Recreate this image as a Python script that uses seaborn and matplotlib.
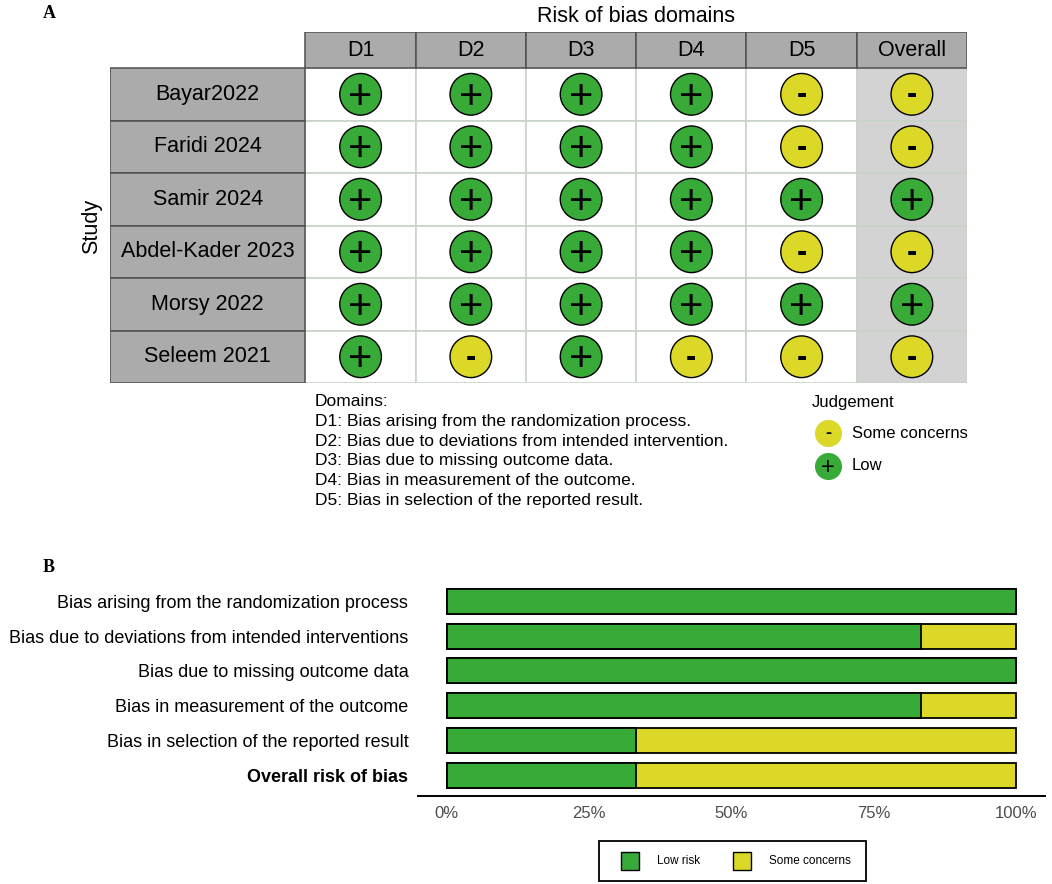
import numpy as np
import pandas as pd
import matplotlib
matplotlib.use("Agg")
import matplotlib.pyplot as plt
from matplotlib.patches import Rectangle
import seaborn as sns

# ---- data ----
studies = ["Bayar2022", "Faridi 2024", "Samir 2024", "Abdel-Kader 2023", "Morsy 2022", "Seleem 2021"]
domains = ["D1", "D2", "D3", "D4", "D5", "Overall"]
# L = Low, S = Some concerns (rows follow studies, columns follow domains)
d1 = ["L", "L", "L", "L", "L", "L"]
d2 = ["L", "L", "L", "L", "L", "S"]
d3 = ["L", "L", "L", "L", "L", "L"]
d4 = ["L", "L", "L", "L", "L", "S"]
d5 = ["S", "S", "L", "S", "L", "S"]
overall = ["S", "S", "L", "S", "L", "S"]

domain_text = [
    "Domains:",
    "D1: Bias arising from the randomization process.",
    "D2: Bias due to deviations from intended intervention.",
    "D3: Bias due to missing outcome data.",
    "D4: Bias in measurement of the outcome.",
    "D5: Bias in selection of the reported result.",
]

summary_labels = [
    "Bias arising from the randomization process",
    "Bias due to deviations from intended interventions",
    "Bias due to missing outcome data",
    "Bias in measurement of the outcome",
    "Bias in selection of the reported result",
    "Overall risk of bias",
]
low_pct = [100, 83.3, 100, 83.3, 33.3, 33.3]
some_pct = [0, 16.7, 0, 16.7, 66.7, 66.7]
pct_ticks = [0, 25, 50, 75, 100]
pct_labels = ["0%", "25%", "50%", "75%", "100%"]

GREEN = "#38AA38"
YELLOW = "#DCD828"
HEAD = "#ABABAB"
BORDER = "#505050"
GRID = "#C8D4C8"

sns.set_style("white")
plt.rcParams["font.family"] = ["Liberation Sans", "DejaVu Sans"]
plt.rcParams["text.color"] = "black"

W, H = 1052, 884
fig = plt.figure(figsize=(W / 100, H / 100), dpi=100)


def fig_rect(x0, y0, x1, y1):
    return [x0 / W, 1 - y1 / H, (x1 - x0) / W, (y1 - y0) / H]


# overlay axes in pixel coordinates for annotations / legends
ov = fig.add_axes([0, 0, 1, 1])
ov.set_xlim(0, W)
ov.set_ylim(H, 0)
ov.axis("off")

# ---- panel A: traffic light ----
ax_a = fig.add_axes(fig_rect(110, 32, 967, 383))
study_w = 195 / 110
head_h = 36 / 52.4
ax_a.axis("off")

for r in range(len(studies)):
    for c in range(len(domains)):
        fc = "#D3D3D3" if domains[c] == "Overall" else "white"
        ax_a.add_patch(Rectangle((c - 0.5, r - 0.5), 1, 1, facecolor=fc,
                                 edgecolor=GRID, lw=1.2, zorder=1))
for c, d in enumerate(domains):
    ax_a.add_patch(Rectangle((c - 0.5, -0.5 - head_h), 1, head_h, facecolor=HEAD,
                             edgecolor=BORDER, lw=1.1, zorder=2))
    ax_a.text(c, -0.5 - head_h / 2, d, ha="center", va="center", fontsize=15.5, zorder=4)
for r, s in enumerate(studies):
    ax_a.add_patch(Rectangle((-0.5 - study_w, r - 0.5), study_w, 1, facecolor=HEAD,
                             edgecolor=BORDER, lw=1.1, zorder=2))
    ax_a.text(-0.5 - study_w / 2, r, s, ha="center", va="center", fontsize=15.5, zorder=4)

judg = pd.DataFrame({"D1": d1, "D2": d2, "D3": d3, "D4": d4, "D5": d5, "Overall": overall})
judg["row"] = range(len(studies))
long = judg.melt(id_vars="row", var_name="domain", value_name="j")
long["col"] = long["domain"].map({d: i for i, d in enumerate(domains)})

sns.scatterplot(data=long, x="col", y="row", hue="j", palette={"L": GREEN, "S": YELLOW},
                s=900, edgecolor="black", linewidth=1.0, legend=False, ax=ax_a, zorder=3)
for _, rr in long.iterrows():
    if rr["j"] == "L":
        ax_a.text(rr["col"], rr["row"] + 0.07, "+", ha="center", va="center",
                  fontsize=30, zorder=5)
    else:
        ax_a.text(rr["col"], rr["row"] + 0.02, "-", ha="center", va="center",
                  fontsize=22, fontweight="bold", zorder=5)
ax_a.set_xlim(-0.5 - study_w, 5.5)
ax_a.set_ylim(5.5, -0.5 - head_h)

ov.text(636, 17, "Risk of bias domains", ha="center", va="center", fontsize=15.5)
ov.text(92, 226, "Study", ha="center", va="center", rotation=90, fontsize=15.5)
ov.text(49, 13, "A", ha="center", va="center", fontsize=13, fontweight="bold",
        family=["Liberation Serif", "DejaVu Serif"])
ov.text(49, 568, "B", ha="center", va="center", fontsize=13, fontweight="bold",
        family=["Liberation Serif", "DejaVu Serif"])

for i, line in enumerate(domain_text):
    ov.text(315, 402 + i * 19.6, line, ha="left", va="center", fontsize=12.5)

# judgement legend
ov.text(812, 402, "Judgement", ha="left", va="center", fontsize=12)
ov.scatter([828], [433], s=380, color=YELLOW, linewidth=0)
ov.text(828, 433, "-", ha="center", va="center", fontsize=13, fontweight="bold")
ov.text(852, 433, "Some concerns", ha="left", va="center", fontsize=12)
ov.scatter([828], [466], s=380, color=GREEN, linewidth=0)
ov.text(828, 468, "+", ha="center", va="center", fontsize=17)
ov.text(852, 466, "Low", ha="left", va="center", fontsize=12)

# ---- panel B: summary bars ----
ax_b = fig.add_axes(fig_rect(418, 580.6, 1045, 796))
summ = pd.DataFrame({"label": summary_labels, "low": low_pct, "some": some_pct})
summ["total"] = summ["low"] + summ["some"]
sns.barplot(data=summ, x="total", y="label", color=YELLOW, saturation=1, width=0.72,
            edgecolor="black", linewidth=1.3, orient="h", ax=ax_b)
sns.barplot(data=summ, x="low", y="label", color=GREEN, saturation=1, width=0.72,
            edgecolor="black", linewidth=1.3, orient="h", ax=ax_b)
ax_b.set_xlim(-5, 105)
ax_b.set_ylim(5.6, -0.6)
ax_b.set_xlabel("")
ax_b.set_ylabel("")
ax_b.set_xticks(pct_ticks)
ax_b.set_xticklabels(pct_labels)
for sp in ["top", "right", "left"]:
    ax_b.spines[sp].set_visible(False)
ax_b.spines["bottom"].set_linewidth(1.4)
ax_b.spines["bottom"].set_color("black")
ax_b.tick_params(axis="x", length=3, width=0.8, colors="#4D4D4D", labelsize=12, pad=4)
ax_b.tick_params(axis="y", length=0, labelsize=13, pad=7, labelcolor="black")
ax_b.get_yticklabels()[-1].set_fontweight("bold")
ax_b.set_facecolor("none")

# summary legend
ov.add_patch(Rectangle((599, 841), 267, 40, facecolor="white", edgecolor="black", lw=1.3))
ov.add_patch(Rectangle((621, 852), 18, 18, facecolor=GREEN, edgecolor="black", lw=1.0))
ov.text(657, 861, "Low risk", ha="left", va="center", fontsize=8.5)
ov.add_patch(Rectangle((733, 852), 18, 18, facecolor=YELLOW, edgecolor="black", lw=1.0))
ov.text(769, 861, "Some concerns", ha="left", va="center", fontsize=8.5)

fig.savefig("out.png", dpi=100)
